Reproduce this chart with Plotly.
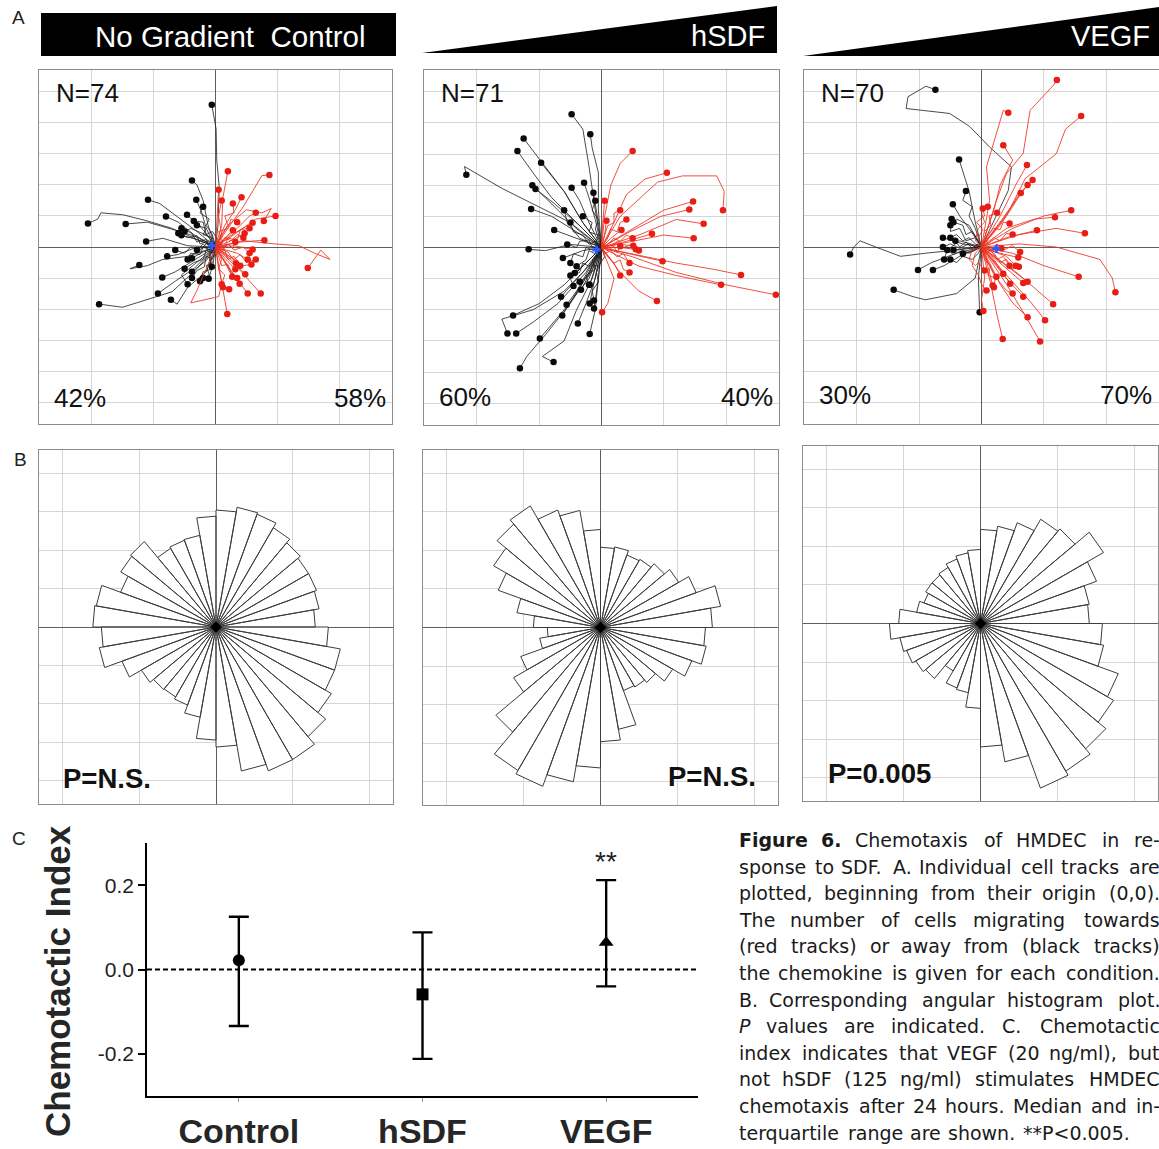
import math
import plotly.graph_objects as go

W, H = 1159, 1149


def fx(p):
    return p / W


def fy(p):
    return 1 - p / H


# ---------------- DATA ----------------
# Panel A: cell tracks (waypoints after origin, grid units; last point = end)
conditions = ["No\u00a0Gradient\u00a0\u00a0Control", "hSDF", "VEGF"]
n_labels = ["N=74", "N=71", "N=70"]
pct_away = ["42%", "60%", "30%"]
pct_toward = ["58%", "40%", "70%"]
centroids = [(-0.06, 0.02), (-0.08, -0.04), (0.24, -0.03)]

tracks_control = [
    [(0.04, 0.35), (0.06, 0.97), (0.02, 1.4), (0.01, 1.9), (-0.02, 2.1), (-0.06, 2.29)],
    [(-0.3, 0.12), (-0.7, 0.3), (-1.1, 0.42), (-1.5, 0.52), (-1.85, 0.55), (-1.9, 0.45), (-2.06, 0.38)],
    [(-0.35, 0.18), (-0.75, 0.3), (-1.1, 0.4), (-1.45, 0.37)],
    [(-0.3, 0.25), (-0.7, 0.55), (-0.9, 0.7), (-1.09, 0.76)],
    [(-0.12, 0.35), (-0.2, 0.75), (-0.3, 1.0), (-0.38, 1.07)],
    [(-0.15, 0.3), (-0.22, 0.55), (-0.31, 0.76)],
    [(-0.35, 0.2), (-0.6, 0.4), (-0.80, 0.49)],
    [(-0.45, 0.02), (-0.85, 0.14), (-1.12, 0.09)],
    [(-0.35, -0.02), (-0.6, -0.12), (-0.78, -0.15)],
    [(-0.45, -0.15), (-0.85, -0.2), (-1.1, -0.3), (-1.38, -0.35), (-1.23, -0.29)],
    [(-0.4, -0.25), (-0.65, -0.4), (-0.86, -0.49)],
    [(-0.35, -0.35), (-0.65, -0.55), (-0.93, -0.75)],
    [(-0.3, -0.35), (-0.7, -0.72), (-1.1, -0.85), (-1.5, -0.97), (-1.88, -0.92)],
    [(-0.15, -0.4), (-0.45, -0.65), (-0.62, -0.92), (-0.72, -0.85)],
    [(-0.2, -0.08), (-0.38, -0.18)],
    [(-0.15, -0.22), (-0.38, -0.40)],
    [(-0.04, -0.28), (-0.11, -0.51)],
    [(-0.1, -0.15), (-0.06, -0.32)],
    [(-0.2, 0.28), (-0.46, 0.52)],
    [(-0.3, 0.12), (-0.55, 0.19)],
    [(-0.12, 0.18), (-0.4, 0.3), (-0.5, 0.25)],
    [(-0.3, -0.25), (-0.55, -0.45), (-0.45, -0.6)],
    [(-0.1, 0.05), (-0.05, 0.15), (-0.2, 0.2), (-0.15, 0.3), (-0.3, 0.35)],
    [(-0.08, -0.05), (-0.2, 0.0), (-0.25, -0.12), (-0.4, -0.1), (-0.45, -0.2)],
    [(0.05, -0.1), (-0.1, -0.2), (-0.05, -0.35), (-0.2, -0.4), (-0.25, -0.55)],
    [(-0.1, 0.1), (-0.25, 0.05), (-0.3, 0.18), (-0.45, 0.15), (-0.6, 0.22)],
    [(-0.05, -0.1), (-0.15, -0.05), (-0.2, -0.2), (-0.35, -0.25), (-0.5, -0.35)],
    [(0.05, 0.1), (-0.05, 0.25), (-0.15, 0.2), (-0.2, 0.4), (-0.35, 0.42)],
    [(-0.1, 0.0), (-0.15, 0.12), (-0.3, 0.08), (-0.38, 0.22), (-0.55, 0.3)],
    [(-0.05, -0.2), (-0.15, -0.15), (-0.18, -0.32), (-0.3, -0.38), (-0.38, -0.5)],
    [(0.1, 0.05), (0.0, 0.1), (-0.1, -0.05), (-0.2, 0.05), (-0.3, -0.05)],
    [(-0.1, -0.1), (-0.05, -0.25), (-0.15, -0.3), (-0.1, -0.45), (-0.2, -0.5)],
    [(-0.15, 0.05), (-0.25, -0.05), (-0.4, 0.0), (-0.5, -0.1), (-0.65, -0.05)],
    [(-0.05, 0.2), (-0.15, 0.35), (-0.1, 0.45), (-0.25, 0.55), (-0.2, 0.65)],
    [(0.2, 0.3), (0.45, 0.65), (0.6, 0.9), (0.75, 1.15), (0.87, 1.16)],
    [(0.1, 0.35), (0.12, 0.8), (0.2, 1.22)],
    [(0.03, 0.45), (0.05, 0.92)],
    [(0.3, 0.2), (0.65, 0.45), (0.97, 0.50)],
    [(0.3, 0.22), (0.6, 0.39)],
    [(0.4, 0.08), (0.79, 0.11)],
    [(0.3, 0.02), (0.6, -0.04)],
    [(0.45, 0.1), (0.95, 0.05), (1.35, 0.02), (1.6, -0.1), (1.85, -0.2), (1.7, -0.05), (1.49, -0.34)],
    [(0.15, -0.18), (0.32, -0.36)],
    [(0.25, -0.2), (0.48, -0.44)],
    [(0.2, -0.32), (0.39, -0.59)],
    [(0.28, -0.42), (0.52, -0.75)],
    [(0.4, -0.38), (0.73, -0.75)],
    [(0.08, -0.45), (0.14, -0.8), (0.19, -1.08)],
    [(0.05, -0.35), (0.12, -0.65)],
    [(0.15, 0.15), (0.28, 0.27)],
    [(0.25, 0.1), (0.47, 0.22)],
    [(0.2, -0.08), (0.33, -0.26)],
    [(0.2, 0.35), (0.5, 0.6), (0.75, 0.55), (0.9, 0.62), (0.78, 0.42)],
    [(0.1, 0.2), (0.05, 0.5), (0.1, 0.75)],
    [(0.18, -0.3), (0.27, -0.48)],
    [(0.35, -0.1), (0.52, -0.2)],
    [(0.15, 0.35), (0.32, 0.6), (0.42, 0.8)],
    [(0.35, 0.3), (0.55, 0.5), (0.65, 0.55)],
    [(-0.15, -0.35), (-0.3, -0.7), (-0.4, -0.9), (0.05, -0.8), (0.1, -0.6)],
    [(0.3, -0.2), (0.45, -0.3), (0.58, -0.28)],
    [(0.1, 0.05), (0.15, 0.15), (0.25, 0.1), (0.35, 0.2), (0.45, 0.15)],
    [(0.05, -0.1), (0.15, -0.05), (0.2, -0.2), (0.3, -0.15), (0.4, -0.3)],
    [(0.1, 0.1), (0.05, 0.25), (0.2, 0.3), (0.25, 0.45), (0.35, 0.4)],
    [(0.1, -0.05), (0.2, 0.05), (0.3, -0.05), (0.45, 0.0), (0.55, -0.1)],
    [(0.05, -0.15), (0.1, -0.3), (0.2, -0.28), (0.25, -0.42), (0.35, -0.5)],
    [(0.15, 0.0), (0.2, 0.15), (0.35, 0.1), (0.4, 0.28), (0.55, 0.3)],
    [(0.05, 0.05), (0.12, -0.05), (0.2, 0.05), (0.28, -0.02), (0.32, 0.08)],
    [(0.1, -0.2), (0.05, -0.35), (0.15, -0.45), (0.1, -0.6), (0.22, -0.68)],
    [(0.1, 0.2), (0.2, 0.35), (0.15, 0.5), (0.3, 0.55), (0.28, 0.7)],
    [(0.15, -0.1), (0.3, -0.2), (0.4, -0.12), (0.5, -0.25), (0.65, -0.2)],
]

tracks_hsdf = [
    [(-0.05, 0.6), (-0.05, 1.2), (-0.15, 1.6), (-0.18, 1.82)],
    [(-0.1, 0.6), (-0.2, 1.3), (-0.3, 1.9), (-0.48, 2.14)],
    [(-0.3, 0.4), (-0.6, 0.9), (-0.9, 1.3), (-1.25, 1.75)],
    [(-0.3, 0.3), (-0.8, 0.8), (-1.1, 1.2), (-1.35, 1.55)],
    [(-0.5, 0.4), (-1.0, 0.65), (-1.6, 0.95), (-2.2, 1.3), (-2.17, 1.17)],
    [(-0.3, 0.4), (-0.6, 0.9), (-0.97, 1.36)],
    [(-0.4, 0.3), (-0.8, 0.7), (-1.11, 1.00)],
    [(-0.35, 0.35), (-0.75, 0.7), (-1.06, 0.94)],
    [(-0.4, 0.25), (-0.8, 0.5), (-1.13, 0.62)],
    [(-0.2, 0.4), (-0.35, 0.75), (-0.48, 0.96)],
    [(-0.1, 0.45), (-0.2, 0.8), (-0.28, 1.04)],
    [(-0.05, 0.4), (-0.13, 0.88)],
    [(-0.4, 0.15), (-0.76, 0.28)],
    [(-0.5, 0.05), (-0.9, -0.05), (-1.17, -0.03)],
    [(-0.3, -0.05), (-0.62, -0.17)],
    [(-0.2, -0.2), (-0.43, -0.41)],
    [(-0.1, -0.3), (-0.19, -0.60)],
    [(-0.3, -0.3), (-0.6, -0.6), (-1.0, -0.9), (-1.42, -1.09)],
    [(-0.2, -0.3), (-0.6, -0.7), (-1.1, -1.0), (-1.6, -1.15), (-1.51, -1.38)],
    [(-0.25, -0.4), (-0.7, -0.9), (-1.1, -1.2), (-1.37, -1.38)],
    [(-0.2, -0.5), (-0.6, -1.0), (-0.99, -1.46)],
    [(-0.2, -0.4), (-0.5, -0.9), (-0.9, -1.4), (-1.2, -1.75), (-1.31, -1.94)],
    [(-0.15, -0.5), (-0.4, -1.0), (-0.6, -1.5), (-0.95, -1.75), (-0.77, -1.84)],
    [(-0.2, -0.4), (-0.45, -0.8), (-0.63, -1.09)],
    [(-0.2, -0.35), (-0.4, -0.7), (-0.56, -0.92)],
    [(-0.1, -0.5), (-0.25, -0.9), (-0.38, -1.22)],
    [(-0.05, -0.5), (-0.1, -1.0), (-0.19, -1.39)],
    [(-0.05, -0.5), (-0.12, -0.98)],
    [(-0.1, -0.45), (-0.19, -0.90)],
    [(-0.3, -0.4), (-0.65, -0.79)],
    [(-0.15, -0.35), (-0.33, -0.68)],
    [(-0.35, 0.15), (-0.55, 0.4), (-0.6, 0.6)],
    [(-0.3, -0.3), (-0.5, -0.5), (-0.45, -0.62)],
    [(-0.1, 0.05), (-0.05, 0.2), (-0.2, 0.25), (-0.15, 0.4), (-0.3, 0.5)],
    [(-0.05, -0.1), (-0.15, -0.2), (-0.1, -0.35), (-0.25, -0.45), (-0.2, -0.6)],
    [(-0.1, -0.05), (-0.25, 0.0), (-0.3, -0.15), (-0.45, -0.1), (-0.5, -0.25)],
    [(0.05, -0.15), (-0.05, -0.3), (-0.15, -0.28), (-0.2, -0.45), (-0.35, -0.55)],
    [(-0.1, 0.1), (-0.2, 0.05), (-0.3, 0.2), (-0.45, 0.25), (-0.5, 0.4)],
    [(-0.05, 0.15), (-0.1, 0.3), (-0.05, 0.45), (-0.15, 0.6), (-0.1, 0.75)],
    [(-0.1, -0.2), (-0.2, -0.3), (-0.3, -0.25), (-0.35, -0.4), (-0.5, -0.45)],
    [(0.0, -0.2), (-0.08, -0.4), (-0.05, -0.55), (-0.15, -0.7), (-0.12, -0.85)],
    [(-0.15, 0.0), (-0.2, 0.12), (-0.35, 0.1), (-0.4, 0.0), (-0.55, 0.05)],
    [(-0.05, 0.05), (-0.1, -0.1), (-0.2, -0.05), (-0.25, -0.2), (-0.4, -0.3)],
    [(0.05, 0.5), (0.15, 1.0), (0.3, 1.35), (0.50, 1.55)],
    [(0.2, 0.4), (0.4, 0.85), (0.7, 1.1), (1.05, 1.20)],
    [(0.3, 0.5), (0.9, 1.05), (1.3, 1.15), (1.85, 1.15), (1.97, 0.9), (1.95, 0.6)],
    [(0.5, 0.3), (1.0, 0.6), (1.47, 0.74)],
    [(0.45, 0.25), (0.95, 0.5), (1.41, 0.61)],
    [(0.6, 0.2), (1.2, 0.45), (1.64, 0.38)],
    [(0.5, 0.1), (1.0, 0.2), (1.48, 0.15)],
    [(0.4, 0.1), (0.81, 0.22)],
    [(0.3, 0.0), (0.55, -0.03)],
    [(0.25, 0.05), (0.51, 0.03)],
    [(0.45, -0.1), (0.98, -0.22)],
    [(0.5, -0.1), (1.2, -0.25), (1.8, -0.35), (2.24, -0.44)],
    [(0.6, -0.3), (1.2, -0.45), (1.92, -0.60)],
    [(0.5, -0.15), (1.2, -0.4), (2.0, -0.6), (2.80, -0.76)],
    [(0.3, -0.4), (0.6, -0.7), (0.89, -0.86)],
    [(0.2, -0.5), (0.1, -0.9), (0.01, -1.04)],
    [(0.02, 0.4), (0.05, 0.75)],
    [(0.05, 0.2), (0.08, 0.43)],
    [(0.15, 0.15), (0.32, 0.28)],
    [(0.2, -0.25), (0.3, -0.45)],
    [(0.1, 0.05), (0.2, 0.15), (0.3, 0.1), (0.4, 0.2), (0.5, 0.15)],
    [(0.05, -0.1), (0.15, -0.05), (0.25, -0.15), (0.35, -0.1), (0.45, -0.25)],
    [(0.1, 0.15), (0.15, 0.3), (0.25, 0.25), (0.3, 0.4), (0.4, 0.45)],
    [(0.15, 0.0), (0.25, 0.1), (0.35, 0.0), (0.5, 0.05), (0.6, -0.05)],
    [(0.05, 0.05), (0.1, -0.05), (0.2, 0.02), (0.25, -0.08), (0.3, 0.02)],
    [(0.1, -0.15), (0.2, -0.25), (0.3, -0.2), (0.35, -0.35), (0.45, -0.4)],
    [(0.05, 0.2), (0.1, 0.35), (0.2, 0.4), (0.2, 0.55), (0.3, 0.6)],
]

tracks_vegf = [
    [(0.43, 0.91), (0.48, 1.29), (0.13, 1.61), (-0.19, 1.94), (-0.51, 2.15), (-1.21, 2.23), (-1.18, 2.42), (-0.89, 2.59), (-0.74, 2.53)],
    [(-0.4, -0.05), (-0.9, -0.1), (-1.3, -0.15), (-1.7, 0.0), (-1.95, 0.1), (-2.05, 0.0), (-2.11, -0.12)],
    [(-0.1, -0.5), (-0.4, -0.75), (-0.9, -0.85), (-1.1, -0.8), (-1.41, -0.69)],
    [(-0.4, -0.1), (-0.8, -0.25), (-1.02, -0.37)],
    [(-0.35, -0.15), (-0.6, -0.3), (-0.78, -0.37)],
    [(-0.1, 0.4), (-0.2, 0.9), (-0.3, 1.2), (-0.36, 1.41)],
    [(-0.2, 0.3), (-0.35, 0.5), (-0.46, 0.69)],
    [(-0.3, 0.05), (-0.62, 0.15)],
    [(-0.25, -0.02), (-0.45, -0.05)],
    [(-0.15, -0.05), (-0.30, -0.11)],
    [(-0.05, -0.5), (-0.03, -1.05)],
    [(-0.2, 0.35), (-0.4, 0.45), (-0.5, 0.35)],
    [(-0.35, 0.1), (-0.55, -0.05), (-0.6, -0.2)],
    [(-0.1, 0.05), (-0.2, 0.15), (-0.3, 0.1), (-0.4, 0.2), (-0.5, 0.15)],
    [(-0.1, -0.05), (-0.2, -0.1), (-0.3, -0.05), (-0.45, -0.12), (-0.55, -0.05)],
    [(-0.05, 0.1), (-0.15, 0.25), (-0.25, 0.2), (-0.3, 0.35), (-0.45, 0.4)],
    [(-0.1, 0.0), (-0.2, 0.05), (-0.35, -0.02), (-0.5, 0.05), (-0.62, 0.0)],
    [(-0.05, -0.1), (-0.15, -0.2), (-0.3, -0.15), (-0.4, -0.25), (-0.5, -0.2)],
    [(-0.1, 0.15), (-0.25, 0.1), (-0.35, 0.3), (-0.5, 0.25), (-0.48, 0.45)],
    [(-0.05, 0.05), (-0.15, -0.02), (-0.25, 0.08), (-0.35, 0.0), (-0.42, 0.1)],
    [(-0.1, 0.3), (-0.2, 0.5), (-0.15, 0.65), (-0.3, 0.75), (-0.25, 0.9)],
    [(0.13, 0.75), (0.08, 1.29), (0.24, 1.83), (0.35, 2.2), (0.43, 2.16)],
    [(0.2, 0.6), (0.3, 1.0), (0.5, 1.4), (0.35, 1.64)],
    [(0.4, 0.5), (0.7, 1.1), (1.2, 1.5), (1.35, 1.9), (1.60, 2.11)],
    [(0.24, 0.75), (0.40, 1.18), (0.67, 1.51), (0.78, 2.2), (1.16, 2.61), (1.21, 2.69)],
    [(0.3, 0.5), (0.55, 1.0), (0.73, 1.32)],
    [(0.35, 0.45), (0.6, 0.85), (0.82, 1.08)],
    [(0.3, 0.4), (0.55, 0.75), (0.74, 1.00)],
    [(0.3, 0.35), (0.5, 0.65), (0.63, 0.87)],
    [(0.5, 0.3), (1.0, 0.5), (1.44, 0.59)],
    [(0.4, 0.3), (0.85, 0.45), (1.18, 0.48)],
    [(0.4, 0.15), (0.89, 0.27)],
    [(0.6, 0.2), (1.2, 0.3), (1.66, 0.22)],
    [(0.5, -0.1), (1.0, -0.3), (1.56, -0.48)],
    [(0.6, 0.05), (1.2, 0.0), (1.9, -0.2), (2.1, -0.5), (2.15, -0.73)],
    [(0.3, -0.1), (0.59, -0.17)],
    [(0.25, -0.3), (0.46, -0.59)],
    [(0.35, -0.3), (0.67, -0.58)],
    [(0.4, -0.3), (0.74, -0.56)],
    [(0.35, -0.45), (0.67, -0.80)],
    [(0.55, -0.4), (1.15, -0.92)],
    [(0.3, -0.6), (0.5, -0.9), (0.74, -1.13)],
    [(0.45, -0.5), (0.8, -0.9), (1.02, -1.18)],
    [(0.15, -0.6), (0.25, -1.1), (0.34, -1.48)],
    [(0.4, -0.6), (0.7, -1.1), (0.94, -1.52)],
    [(0.2, -0.2), (0.35, -0.43)],
    [(0.05, -0.5), (0.0, -0.85), (0.03, -1.03)],
    [(0.1, -0.25), (0.24, -0.48)],
    [(0.1, -0.3), (0.18, -0.62)],
    [(0.4, -0.15), (0.55, -0.3)],
    [(0.2, -0.45), (0.4, -0.7), (0.5, -0.75)],
    [(0.1, 0.05), (0.2, 0.15), (0.3, 0.1), (0.4, 0.22), (0.5, 0.2)],
    [(0.05, -0.1), (0.15, -0.05), (0.25, -0.2), (0.35, -0.15), (0.45, -0.3)],
    [(0.1, 0.1), (0.05, 0.25), (0.15, 0.35), (0.12, 0.5), (0.25, 0.55)],
    [(0.15, -0.05), (0.25, 0.05), (0.35, -0.05), (0.5, 0.02), (0.62, -0.08)],
    [(0.05, -0.2), (0.15, -0.3), (0.1, -0.45), (0.22, -0.5), (0.2, -0.65)],
    [(-0.1, 0.1), (-0.05, 0.3), (0.05, 0.4), (0.0, 0.55), (0.1, 0.65)],
    [(-0.1, -0.1), (-0.15, -0.3), (-0.05, -0.45), (0.0, -0.6), (0.08, -0.7)],
    [(0.1, 0.2), (0.2, 0.3), (0.3, 0.28), (0.35, 0.4), (0.45, 0.38)],
    [(0.2, -0.1), (0.3, -0.25), (0.4, -0.2), (0.5, -0.35), (0.6, -0.32)],
    [(-0.05, 0.15), (0.02, 0.28), (-0.08, 0.4), (0.05, 0.5), (0.02, 0.62)],
    [(0.05, -0.05), (0.12, 0.02), (0.2, -0.06), (0.26, 0.04), (0.32, -0.02)],
    [(-0.15, -0.05), (-0.2, -0.2), (-0.1, -0.3), (-0.05, -0.25), (0.05, -0.38)],
]

# Panel B: angular histogram, 36 bins of 10 degrees (radius in grid units)
bin_centers_deg = list(range(5, 360, 10))
rose_control = [1.29, 1.36, 1.39, 1.39, 1.43, 1.49, 1.56, 1.58, 1.52,
                1.44, 1.21, 1.20, 1.18, 1.45, 1.43, 1.32, 1.58, 1.60,
                1.49, 1.54, 1.30, 1.12, 1.06, 1.05, 1.08, 1.19, 1.47,
                1.56, 1.90, 1.99, 1.99, 1.86, 1.73, 1.64, 1.64, 1.46]
rose_hsdf = [1.45, 1.58, 1.32, 1.17, 1.08, 1.02, 1.00, 1.06, 1.04,
             1.27, 1.54, 1.62, 1.82, 1.75, 1.60, 1.41, 1.10, 0.87,
             0.69, 0.80, 1.10, 1.30, 1.77, 2.14, 2.19, 2.03, 1.82,
             1.48, 1.34, 0.87, 0.89, 0.93, 1.08, 1.26, 1.39, 1.36]
rose_vegf = [1.41, 1.43, 1.60, 1.84, 1.60, 1.56, 1.39, 1.28, 1.22,
             0.96, 0.93, 0.89, 0.84, 0.82, 0.82, 0.78, 0.84, 1.06,
             1.18, 1.06, 1.02, 0.97, 0.93, 0.71, 0.89, 0.91, 1.10,
             1.60, 1.82, 2.27, 2.21, 2.12, 1.99, 1.90, 1.62, 1.58]
p_labels = ["P=N.S.", "P=N.S.", "P=0.005"]

# Panel C: chemotactic index (median and interquartile range)
groups = ["Control", "hSDF", "VEGF"]
ci_median = [0.022, -0.059, 0.064]
ci_q1 = [-0.134, -0.212, -0.040]
ci_q3 = [0.125, 0.088, 0.212]
ci_symbols = ["circle", "square", "triangle-up"]
ci_sig = ["", "", "**"]

caption_lines = [
    "Figure 6. Chemotaxis of HMDEC in re-",
    "sponse to SDF. A. Individual cell tracks are",
    "plotted, beginning from their origin (0,0).",
    "The number of cells migrating towards",
    "(red tracks) or away from (black tracks)",
    "the chemokine is given for each condition.",
    "B. Corresponding angular histogram plot.",
    "P values are indicated. C. Chemotactic",
    "index indicates that VEGF (20 ng/ml), but",
    "not hSDF (125 ng/ml) stimulates HMDEC",
    "chemotaxis after 24 hours. Median and in-",
    "terquartile range are shown. **P<0.005.",
]
caption_bold = {(0, 0), (0, 1)}
caption_italic = {(7, 0)}

# ---------------- FIGURE ----------------
fig = go.Figure()
RED_L = "rgba(238,48,32,0.85)"
BLK_L = "rgba(30,30,30,0.8)"
RED_D = "rgb(232,30,20)"
BLK_D = "rgb(10,10,10)"

panelA_axes = [("x", "y"), ("x2", "y2"), ("x3", "y3")]
for (xa, ya), tracks, cen in zip(panelA_axes, [tracks_control, tracks_hsdf, tracks_vegf], centroids):
    for is_red in (False, True):
        xs, ys, ex, ey = [], [], [], []
        for tr in tracks:
            if (tr[-1][0] > 0) != is_red:
                continue
            pts = [(0.0, 0.0)] + tr
            xs += [p[0] for p in pts] + [None]
            ys += [p[1] for p in pts] + [None]
            ex.append(tr[-1][0])
            ey.append(tr[-1][1])
        fig.add_trace(go.Scatter(x=xs, y=ys, mode="lines", xaxis=xa, yaxis=ya,
                                 line=dict(color=RED_L if is_red else BLK_L, width=1),
                                 hoverinfo="skip", showlegend=False))
        fig.add_trace(go.Scatter(x=ex, y=ey, mode="markers", xaxis=xa, yaxis=ya,
                                 marker=dict(color=RED_D if is_red else BLK_D, size=6.5),
                                 hoverinfo="skip", showlegend=False))
    fig.add_trace(go.Scatter(x=[cen[0]], y=[cen[1]], mode="markers", xaxis=xa, yaxis=ya,
                             marker=dict(symbol="cross", color="#2a5cff", size=7),
                             hoverinfo="skip", showlegend=False))

panelB_axes = [("x4", "y4"), ("x5", "y5"), ("x6", "y6")]
HALF = 5
for (xa, ya), vals in zip(panelB_axes, [rose_control, rose_hsdf, rose_vegf]):
    xs, ys = [], []
    for c, r in zip(bin_centers_deg, vals):
        a1 = math.radians(c - HALF)
        a2 = math.radians(c + HALF)
        xs += [0, r * math.cos(a1), r * math.cos(a2), 0, None]
        ys += [0, r * math.sin(a1), r * math.sin(a2), 0, None]
    fig.add_trace(go.Scatter(x=xs, y=ys, mode="lines", fill="toself", fillcolor="white",
                             line=dict(color="#3c3c3c", width=1), xaxis=xa, yaxis=ya,
                             hoverinfo="skip", showlegend=False))
    fig.add_trace(go.Scatter(x=[0], y=[0], mode="markers", xaxis=xa, yaxis=ya,
                             marker=dict(symbol="diamond", color="black", size=9),
                             hoverinfo="skip", showlegend=False))

for i, g in enumerate(groups):
    fig.add_trace(go.Scatter(
        x=[i], y=[ci_median[i]], mode="markers", xaxis="x7", yaxis="y7",
        marker=dict(symbol=ci_symbols[i], color="black", size=12 if i != 2 else 13),
        error_y=dict(type="data", symmetric=False,
                     array=[ci_q3[i] - ci_median[i]],
                     arrayminus=[ci_median[i] - ci_q1[i]],
                     color="black", thickness=2.4, width=10),
        hoverinfo="skip", showlegend=False))

# ---------------- LAYOUT ----------------
GRID = "#d6d6d6"


def sq_axes(x0, x1, y0, y1, R, ydt, anchor_x, anchor_y):
    common = dict(range=[-R, R], tick0=0, showgrid=True, gridcolor=GRID, gridwidth=1,
                  zeroline=True, zerolinecolor="#5e5e5e", zerolinewidth=1.3,
                  showticklabels=False, ticks="", showline=True, linecolor="#8c8c8c",
                  linewidth=1.4, mirror=True, fixedrange=True)
    xa = dict(common, domain=[fx(x0), fx(x1)], dtick=1, anchor=anchor_y)
    ya = dict(common, domain=[fy(y1), fy(y0)], dtick=ydt, anchor=anchor_x)
    return xa, ya


layout = dict(width=W, height=H, margin=dict(l=0, r=0, t=0, b=0),
              paper_bgcolor="white", plot_bgcolor="white", showlegend=False,
              font=dict(family="Liberation Sans, Arial, sans-serif", color="#111"))

boxes_A = [(39, 392, 70, 424), (424, 779, 70, 425), (804, 1159, 70, 424)]
boxes_B = [(39, 393, 450, 804), (423, 778, 450, 805), (803, 1158, 446, 801)]
names = ["", "2", "3", "4", "5", "6"]
for k, (b, R, ydt) in enumerate([(bb, 2.85, 0.5) for bb in boxes_A] + [(bb, 2.3, 0.5) for bb in boxes_B]):
    n = names[k]
    xa, ya = sq_axes(b[0], b[1], b[2], b[3], R, ydt, "x" + n, "y" + n)
    layout["xaxis" + n] = xa
    layout["yaxis" + n] = ya

layout["xaxis7"] = dict(domain=[fx(147), fx(698)], range=[-0.5, 2.5], anchor="y7",
                        tickvals=[0, 1, 2], ticktext=["<b>%s</b>" % g for g in groups],
                        tickfont=dict(family="Liberation Sans, Arial, sans-serif",
                                      size=34, color="#262626"),
                        showline=True, linecolor="black", linewidth=1.6, ticks="outside",
                        ticklen=4, tickcolor="#999999", tickwidth=1, showgrid=False,
                        zeroline=False, fixedrange=True)
layout["yaxis7"] = dict(domain=[fy(1096), fy(843)], range=[-0.3, 0.3], anchor="x7",
                        tickvals=[-0.2, 0, 0.2], ticktext=["-0.2", "0.0", "0.2"],
                        tickfont=dict(size=21, color="#222"), ticks="outside", ticklen=7,
                        tickwidth=1.6, tickcolor="black", showline=True, linewidth=1.6,
                        linecolor="black", showgrid=False, zeroline=False, fixedrange=True)

shapes = [
    dict(type="rect", xref="paper", yref="paper", x0=fx(41), x1=fx(396), y0=fy(56), y1=fy(13),
         fillcolor="black", line=dict(width=0)),
    dict(type="path", xref="paper", yref="paper",
         path="M %f,%f L %f,%f L %f,%f Z" % (fx(422), fy(53), fx(777), fy(6), fx(777), fy(53)),
         fillcolor="black", line=dict(width=0)),
    dict(type="path", xref="paper", yref="paper",
         path="M %f,%f L %f,%f L %f,%f Z" % (fx(803), fy(56), fx(1159), fy(7), fx(1159), fy(56)),
         fillcolor="black", line=dict(width=0)),
    dict(type="line", xref="x7", yref="y7", x0=-0.5, x1=2.5, y0=0, y1=0,
         line=dict(color="black", width=2, dash="5px,3px")),
]
layout["shapes"] = shapes

ann = []


def text(x, y, s, size, anchor="left", color="#111", **kw):
    d = dict(x=fx(x), y=fy(y), xref="paper", yref="paper", text=s, showarrow=False,
             xanchor=anchor, yanchor="middle", font=dict(size=size, color=color))
    d.update(kw)
    ann.append(d)


# headers
text(230, 36, conditions[0], 29.5, "center", "white")
text(767, 36, conditions[1], 29, "right", "white")
text(1152, 36, conditions[2], 29, "right", "white")
# panel letters
text(10, 17, "A", 19, "left", "#222")
text(12, 459, "B", 19, "left", "#222")
text(10, 838, "C", 19, "left", "#222")
# A labels
for nl, pa, pt, (l, r, t, b), yp in zip(n_labels, pct_away, pct_toward, boxes_A, [398, 397, 395]):
    text(l + 15, 93, nl, 26)
    text(l + 13, yp, pa, 26)
    text(min(r, 1158) - 4, yp, pt, 26, "right")
# B labels
text(61, 778, "<b>%s</b>" % p_labels[0], 27.5)
text(758, 776, "<b>%s</b>" % p_labels[1], 27.5, "right")
text(826, 773, "<b>%s</b>" % p_labels[2], 27.5)
# C y-title
text(57, 981, "<b>Chemotactic Index</b>", 35, "center", "#262626", textangle=-90)
for i, s in enumerate(ci_sig):
    if s:
        ann.append(dict(x=i, y=ci_q3[i], xref="x7", yref="y7", text=s, showarrow=False,
                        xanchor="center", yanchor="bottom", yshift=1,
                        font=dict(size=28, color="#222")))

# caption: justified, word by word (DejaVu Sans advance widths, em units)
DJV = {' ': 0.318, 'a': 0.613, 'b': 0.635, 'c': 0.550, 'd': 0.635, 'e': 0.615, 'f': 0.352,
       'g': 0.635, 'h': 0.634, 'i': 0.278, 'j': 0.278, 'k': 0.579, 'l': 0.278, 'm': 0.974,
       'n': 0.634, 'o': 0.612, 'p': 0.635, 'q': 0.635, 'r': 0.411, 's': 0.521, 't': 0.392,
       'u': 0.634, 'v': 0.592, 'w': 0.818, 'x': 0.592, 'y': 0.592, 'z': 0.525,
       'A': 0.684, 'B': 0.686, 'C': 0.698, 'D': 0.770, 'E': 0.632, 'F': 0.575, 'G': 0.775,
       'H': 0.752, 'I': 0.295, 'K': 0.656, 'L': 0.557, 'M': 0.863, 'N': 0.748, 'O': 0.787,
       'P': 0.603, 'R': 0.695, 'S': 0.635, 'T': 0.611, 'U': 0.732, 'V': 0.684, 'W': 0.989,
       '.': 0.318, ',': 0.318, '(': 0.390, ')': 0.390, '-': 0.361, '/': 0.337, '*': 0.500,
       '<': 0.838}
for d in "0123456789":
    DJV[d] = 0.636
CAP_SIZE = 19
CAP_L, CAP_R = 739, 1160
CAP_FONT = "DejaVu Sans, Verdana, sans-serif"
FUDGE = 1.025


def word_w(wd, bold):
    w = sum(DJV.get(ch, 0.6) for ch in wd) * CAP_SIZE * FUDGE
    return w * 1.12 if bold else w


for j, line in enumerate(caption_lines):
    words = line.split(" ")
    widths = [word_w(wd, (j, k) in caption_bold) for k, wd in enumerate(words)]
    last = j == len(caption_lines) - 1
    if last or len(words) == 1:
        gap = DJV[' '] * CAP_SIZE
    else:
        gap = (CAP_R - CAP_L - sum(widths)) / (len(words) - 1)
    yy = 840 + j * 26.6
    xpos = CAP_L
    for k, wd in enumerate(words):
        s = wd.replace("<", "&lt;")
        if (j, k) in caption_bold:
            s = "<b>%s</b>" % s
        if (j, k) in caption_italic:
            s = "<i>%s</i>" % s
        is_last_word = (k == len(words) - 1) and not last and len(words) > 1
        text(CAP_R if is_last_word else xpos, yy, s, CAP_SIZE,
             "right" if is_last_word else "left", "#1a1a1a",
             font=dict(size=CAP_SIZE, color="#1a1a1a", family=CAP_FONT),
             borderpad=0, borderwidth=0)
        xpos += widths[k] + gap

layout["annotations"] = ann
fig.update_layout(**layout)

fig.write_html("out.html", include_plotlyjs=True, full_html=True,
               config={"displayModeBar": False},
               post_script=("document.body.style.margin='0';"
                            "document.documentElement.style.overflow='hidden';"
                            "document.body.style.overflow='hidden';"
                            "var gd=document.querySelector('.plotly-graph-div');"
                            "gd.style.position='fixed';gd.style.top='0px';gd.style.left='0px';"))
